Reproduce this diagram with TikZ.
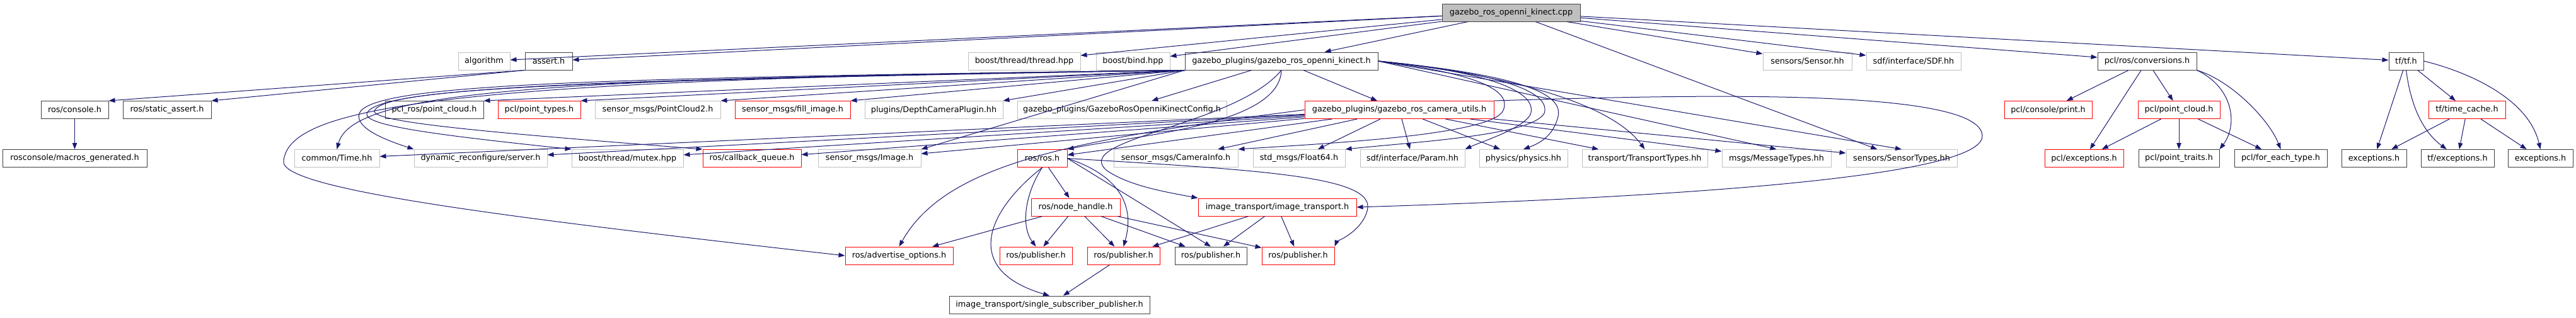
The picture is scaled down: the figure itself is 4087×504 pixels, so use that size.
\documentclass[tikz,border=0pt]{standalone}
\usepackage{fontspec}
\setmainfont{DejaVu Sans}
\usetikzlibrary{arrows.meta}
\definecolor{edgeblue}{HTML}{191970}
\definecolor{boxgrey}{HTML}{BFBFBF}
\definecolor{boxdark}{HTML}{404040}
\tikzstyle{file} = [rectangle, minimum height=21pt, inner sep=0pt, text centered, font=\fontsize{9.6}{11}\selectfont, line width=0.75pt]
\tikzstyle{mainfile} = [file, draw=boxdark, fill=boxgrey]
\tikzstyle{docfile} = [file, draw=boxdark]
\tikzstyle{truncfile} = [file, draw=red]
\tikzstyle{extfile} = [file, draw=boxgrey]
\tikzstyle{arrow} = [edgeblue, line width=0.75pt, ->, >={Triangle[length=7.5pt,width=5.5pt]}]
\tikzset{wd/.style={minimum width=0.75pt*#1}}

\begin{document}
\begin{tikzpicture}[x=0.75pt, y=-0.75pt]
    \useasboundingbox (0,0) rectangle (4087,504);
    % top
    \node (cpp) [mainfile, wd=219] at (2397.5,20) {gazebo\_ros\_openni\_kinect.cpp};
    % first level
    \node (algorithm) [extfile, wd=82] at (768,97) {algorithm};
    \node (assert) [docfile, wd=75] at (870.5,97) {assert.h};
    \node (thread) [extfile, wd=178] at (1625,97) {boost/thread/thread.hpp};
    \node (bind) [extfile, wd=117] at (1797.5,97) {boost/bind.hpp};
    \node (kinect) [docfile, wd=306] at (2033,97) {gazebo\_plugins/gazebo\_ros\_openni\_kinect.h};
    \node (sensor) [extfile, wd=141] at (2867.5,97) {sensors/Sensor.hh};
    \node (sdf) [extfile, wd=150] at (3036,97) {sdf/interface/SDF.hh};
    \node (conversions) [docfile, wd=157] at (3406.5,97) {pcl/ros/conversions.h};
    \node (tf) [docfile, wd=55] at (3817.5,97) {tf/tf.h};
    % second level
    \node (console) [docfile, wd=107] at (118.5,174.5) {ros/console.h};
    \node (staticassert) [docfile, wd=140] at (265,174.5) {ros/static\_assert.h};
    \node (pclros) [docfile, wd=156] at (689,174.5) {pcl\_ros/point\_cloud.h};
    \node (pointtypes) [truncfile, wd=131] at (855.5,174.5) {pcl/point\_types.h};
    \node (pointcloud2) [extfile, wd=199] at (1043.5,174.5) {sensor\_msgs/PointCloud2.h};
    \node (fillimage) [truncfile, wd=183] at (1257.5,174.5) {sensor\_msgs/fill\_image.h};
    \node (depthplugin) [extfile, wd=219] at (1481.5,174.5) {plugins/DepthCameraPlugin.hh};
    \node (kinectconfig) [extfile, wd=332] at (1780,174.5) {gazebo\_plugins/GazeboRosOpenniKinectConfig.h};
    \node (camutils) [truncfile, wd=300] at (2220,174.5) {gazebo\_plugins/gazebo\_ros\_camera\_utils.h};
    \node (print) [truncfile, wd=139] at (3249.5,174.5) {pcl/console/print.h};
    \node (pclcloud) [truncfile, wd=130] at (3457,174.5) {pcl/point\_cloud.h};
    \node (timecache) [truncfile, wd=122] at (3914,174.5) {tf/time\_cache.h};
    % third level
    \node (macros) [docfile, wd=229] at (118.5,251.5) {rosconsole/macros\_generated.h};
    \node (time) [extfile, wd=135] at (534.5,251.5) {common/Time.hh};
    \node (server) [extfile, wd=211] at (762.5,251.5) {dynamic\_reconfigure/server.h};
    \node (mutex) [extfile, wd=177] at (995.5,251.5) {boost/thread/mutex.hpp};
    \node (cbqueue) [truncfile, wd=156] at (1193,251.5) {ros/callback\_queue.h};
    \node (image) [extfile, wd=163] at (1379.5,251.5) {sensor\_msgs/Image.h};
    \node (ros) [truncfile, wd=79] at (1653.5,251.5) {ros/ros.h};
    \node (caminfo) [extfile, wd=197] at (1865.5,251.5) {sensor\_msgs/CameraInfo.h};
    \node (float) [extfile, wd=146] at (2061,251.5) {std\_msgs/Float64.h};
    \node (param) [extfile, wd=166] at (2241,251.5) {sdf/interface/Param.hh};
    \node (physics) [extfile, wd=140] at (2417,251.5) {physics/physics.hh};
    \node (transport) [extfile, wd=199] at (2609.5,251.5) {transport/TransportTypes.hh};
    \node (msgtypes) [extfile, wd=173] at (2818.5,251.5) {msgs/MessageTypes.hh};
    \node (sensortypes) [extfile, wd=176] at (3017,251.5) {sensors/SensorTypes.hh};
    \node (pclexc) [truncfile, wd=125] at (3306.5,251.5) {pcl/exceptions.h};
    \node (pointtraits) [docfile, wd=128] at (3457,251.5) {pcl/point\_traits.h};
    \node (foreach) [docfile, wd=147] at (3618.5,251.5) {pcl/for\_each\_type.h};
    \node (exca) [docfile, wd=103] at (3766.5,251.5) {exceptions.h};
    \node (tfexc) [docfile, wd=116] at (3899,251.5) {tf/exceptions.h};
    \node (excb) [docfile, wd=103] at (4030.5,251.5) {exceptions.h};
    % fourth level and below
    \node (nodehandle) [truncfile, wd=141] at (1706.5,329) {ros/node\_handle.h};
    \node (imgtransport) [truncfile, wd=251] at (2026.5,329) {image\_transport/image\_transport.h};
    \node (advopts) [truncfile, wd=171] at (1426.5,406) {ros/advertise\_options.h};
    \node (puba) [truncfile, wd=115] at (1643.5,406) {ros/publisher.h};
    \node (pubb) [truncfile, wd=115] at (1782.5,406) {ros/publisher.h};
    \node (pubc) [docfile, wd=114] at (1921,406) {ros/publisher.h};
    \node (pubd) [truncfile, wd=115] at (2059.5,406) {ros/publisher.h};
    \node (ssp) [docfile, wd=318] at (1665,484) {image\_transport/single\_subscriber\_publisher.h};

    % edges of the .cpp
    \draw [arrow] (cpp) -- (algorithm);
    \draw [arrow] (cpp) -- (assert);
    \draw [arrow] (cpp) -- (thread);
    \draw [arrow] (cpp) -- (bind);
    \draw [arrow] (cpp) -- (kinect);
    \draw [arrow] (cpp) -- (sensor);
    \draw [arrow] (cpp) -- (sdf);
    \draw [arrow] (cpp) -- (conversions);
    \draw [arrow] (cpp) -- (tf);
    \draw [arrow] (cpp) -- (sensortypes);
    \draw [arrow] (assert.south west) -- (console.north east);
    \draw [arrow] (assert.south west) -- (staticassert.north east);
    \draw [arrow] (console) -- (macros);

    % edges of the kinect header
    \draw [arrow] (kinect.south west) -- (pclros.north east);
    \draw [arrow] (kinect.south west) -- (pointtypes.north east);
    \draw [arrow] (kinect.south west) -- (pointcloud2.north east);
    \draw [arrow] (kinect.south west) -- (fillimage.north east);
    \draw [arrow] (kinect.south west) -- (depthplugin.north east);
    \draw [arrow] (kinect) -- (kinectconfig);
    \draw [arrow] (kinect) -- (camutils);
    \draw [arrow] (kinect.south west) .. controls (900,124) and (560,140) .. (time.north);
    \draw [arrow] (kinect.south west) .. controls (900,124) and (590,135) .. (570,180) .. controls (562,205) and (620,225) .. (server.north west);
    \draw [arrow] (kinect.south west) .. controls (900,126) and (600,140) .. (582,180) .. controls (576,200) and (700,215) .. (mutex.north west);
    \draw [arrow] (kinect.south west) .. controls (900,128) and (610,140) .. (594,176) .. controls (588,195) and (800,212) .. (cbqueue.north west);
    \draw [arrow] (kinect.south west) -- (image.north east);
    \draw [arrow] (kinect.south west) .. controls (700,125) and (460,170) .. (450,255) .. controls (440,300) and (800,345) .. (advopts.west);
    \draw [arrow] (kinect.south) .. controls (2030,200) and (1800,215) .. (ros.north east);
    \draw [arrow] (kinect.south) .. controls (1960,200) and (1700,220) .. (1755,270) .. controls (1790,295) and (1850,305) .. (imgtransport.north west);
    \draw [arrow] (kinect.east) .. controls (2330,115) and (2400,140) .. (2385,175) .. controls (2370,215) and (2100,228) .. (caminfo.north east);
    \draw [arrow] (kinect.east) .. controls (2400,118) and (2460,150) .. (2450,180) .. controls (2430,215) and (2250,225) .. (float.north east);
    \draw [arrow] (kinect.east) .. controls (2380,116) and (2440,150) .. (2428,182) .. controls (2415,205) and (2350,225) .. (param.north east);
    \draw [arrow] (kinect.east) .. controls (2420,120) and (2480,150) .. (2472,185) .. controls (2466,210) and (2450,225) .. (physics.north);
    \draw [arrow] (kinect.east) .. controls (2420,122) and (2560,170) .. (transport.north);
    \draw [arrow] (kinect.east) -- (msgtypes.north);
    \draw [arrow] (kinect.east) -- (sensortypes.north);

    % edges of the camera utils header
    \draw [arrow] (camutils) -- (time);
    \draw [arrow] (camutils) -- (server);
    \draw [arrow] (camutils) -- (mutex);
    \draw [arrow] (camutils) -- (cbqueue);
    \draw [arrow] (camutils) -- (image);
    \draw [arrow] (camutils) -- (ros);
    \draw [arrow] (camutils) -- (caminfo);
    \draw [arrow] (camutils) -- (float);
    \draw [arrow] (camutils) -- (param);
    \draw [arrow] (camutils) -- (physics);
    \draw [arrow] (camutils) -- (transport);
    \draw [arrow] (camutils) -- (msgtypes);
    \draw [arrow] (camutils) -- (sensortypes);
    \draw [arrow] (camutils.west) .. controls (1700,222) and (1500,260) .. (advopts.north);
    \draw [arrow] (camutils.north east) .. controls (2700,150) and (3140,140) .. (3145,215) .. controls (3150,285) and (2600,315) .. (imgtransport.east);

    % ros headers
    \draw [arrow] (ros) -- (nodehandle);
    \draw [arrow] (ros.south) .. controls (1625,310) and (1620,360) .. (puba.north);
    \draw [arrow] (ros.south) .. controls (1560,340) and (1530,430) .. (ssp.north);
    \draw [arrow] (ros.east) .. controls (1780,280) and (1800,330) .. (pubb.north);
    \draw [arrow] (ros.east) -- (pubc.north);
    \draw [arrow] (ros.east) .. controls (2000,270) and (2175,280) .. (2170,330) .. controls (2165,365) and (2120,385) .. (pubd.north east);
    \draw [arrow] (nodehandle) -- (advopts);
    \draw [arrow] (nodehandle) -- (puba);
    \draw [arrow] (nodehandle) -- (pubb);
    \draw [arrow] (nodehandle) -- (pubc);
    \draw [arrow] (nodehandle) -- (pubd);
    \draw [arrow] (imgtransport) -- (pubb);
    \draw [arrow] (imgtransport) -- (pubc);
    \draw [arrow] (imgtransport) -- (pubd);
    \draw [arrow] (pubb) -- (ssp);

    % pcl and tf headers
    \draw [arrow] (conversions) -- (print);
    \draw [arrow] (conversions) -- (pclexc);
    \draw [arrow] (conversions) -- (pclcloud);
    \draw [arrow] (conversions.south east) .. controls (3545,140) and (3550,200) .. (pointtraits.north east);
    \draw [arrow] (conversions.south east) .. controls (3540,128) and (3600,190) .. (foreach.north);
    \draw [arrow] (pclcloud) -- (pclexc);
    \draw [arrow] (pclcloud) -- (pointtraits);
    \draw [arrow] (pclcloud) -- (foreach);
    \draw [arrow] (tf) -- (exca);
    \draw [arrow] (tf) -- (timecache);
    \draw [arrow] (tf.south) .. controls (3825,170) and (3845,210) .. (tfexc.140);
    \draw [arrow] (tf.east) .. controls (3900,110) and (4010,150) .. (excb.north);
    \draw [arrow] (timecache) -- (exca);
    \draw [arrow] (timecache) -- (tfexc);
    \draw [arrow] (timecache) -- (excb);
\end{tikzpicture}
\end{document}
